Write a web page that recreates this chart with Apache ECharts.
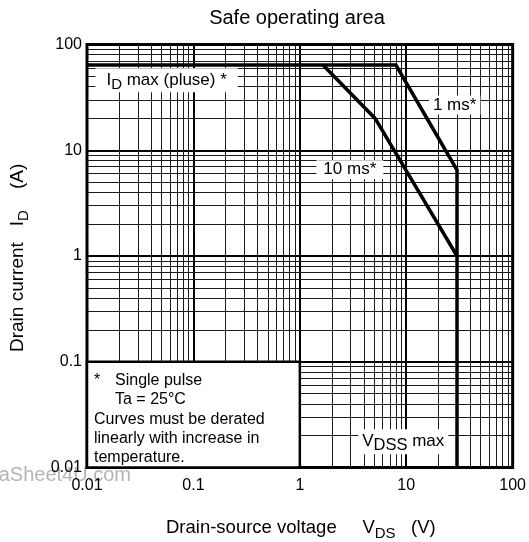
<!DOCTYPE html>
<html>
<head>
<meta charset="utf-8">
<script src="https://cdn.jsdelivr.net/npm/echarts@6/dist/echarts.min.js"></script>
<style>
  html, body { margin: 0; padding: 0; background: #fff; }
  #chart { width: 529px; height: 542px; }
</style>
</head>
<body>
<div id="chart"></div>
<script>
const FONT = '"Liberation Sans", Arial, Helvetica, sans-serif';

// Axis decades and their printed labels
const xTickLabels = ['0.01', '0.1', '1', '10', '100'];
const yTickLabels = ['0.01', '0.1', '1', '10', '100'];
const decadeStarts = [0.01, 0.1, 1, 10];
const minorSteps = [2, 3, 4, 5, 6, 7, 8, 9];

// Safe-operating-area boundaries as [V_DS (V), I_D (A)]
const limit1ms = [[0.01, 64], [8, 64], [30, 6.5], [30, 0.01]];
const limit10ms = [[1.65, 64], [5.1, 20], [30, 1]];

// Curve annotations anchored in data space
const curveNotes = [
  { at: [0.056, 46], text: '{t|I}{sub|D}{t| max (pluse) *}', pad: [0, 11] },
  { at: [28.5, 26.8], text: '{t|1 ms*}', pad: [1, 4] },
  { at: [2.95, 6.55], text: '{t|10 ms*}', pad: [1, 7] },
  { at: [9.37, 0.0175], text: '{t|V}{sub2|DSS}{t| max}', pad: [0, 4] }
];

// Region covered by the footnote box (data space corners)
const noteBox = [[0.01, 0.01], [1, 0.1]];
const noteLines = [
  '{a|*}{b|Single pulse}',
  '{a| }{b|Ta = 25°C}',
  '{b|Curves must be derated}',
  '{b|linearly with increase in}',
  '{b|temperature.}'
];

function tickText(list) {
  return function (v) {
    const hit = list.find(s => Math.abs(Math.log10(+s) - Math.log10(v)) < 1e-6);
    return hit === undefined ? '' : hit;
  };
}

const minorX = [], minorY = [];
decadeStarts.forEach(d => minorSteps.forEach(m => {
  minorX.push({ xAxis: d * m });
  minorY.push({ yAxis: d * m });
}));

const chart = echarts.init(document.getElementById('chart'), null, { renderer: 'canvas' });

const axisCommon = {
  type: 'log',
  logBase: 10,
  min: 0.01,
  max: 100,
  axisLine: { show: false },
  axisTick: { show: false },
  splitLine: { show: true, lineStyle: { color: '#000', width: 2 } },
  axisLabel: { color: '#000', fontSize: 16, fontFamily: FONT }
};

chart.setOption({
  animation: false,
  backgroundColor: '#fff',
  grid: {
    left: 87, right: 16, top: 44.5, bottom: 74.5,
    show: true, borderColor: '#000', borderWidth: 3, backgroundColor: 'transparent'
  },
  xAxis: Object.assign({}, axisCommon, {
    axisLabel: Object.assign({}, axisCommon.axisLabel, { margin: 10, formatter: tickText(xTickLabels) })
  }),
  yAxis: Object.assign({}, axisCommon, {
    axisLabel: Object.assign({}, axisCommon.axisLabel, { margin: 5, formatter: tickText(yTickLabels) })
  }),
  series: [
    {
      name: 'grid',
      type: 'line',
      data: [],
      silent: true,
      markLine: {
        z: 1,
        silent: true,
        symbol: ['none', 'none'],
        label: { show: false },
        lineStyle: { type: 'solid', color: '#1a1a1a', width: 1 },
        data: minorX.concat(minorY)
      },
      markArea: {
        z: 3,
        silent: true,
        label: { show: false },
        itemStyle: { color: '#fff', borderColor: '#000', borderWidth: 2.5, opacity: 1 },
        data: [[{ coord: noteBox[0] }, { coord: noteBox[1] }]]
      }
    },
    {
      name: '1 ms',
      type: 'line',
      data: limit1ms,
      symbol: 'none',
      silent: true,
      z: 4,
      lineStyle: { color: '#000', width: 3.5, join: 'miter' }
    },
    {
      name: '10 ms',
      type: 'line',
      data: limit10ms,
      symbol: 'none',
      silent: true,
      z: 4,
      lineStyle: { color: '#000', width: 3.5, join: 'miter' }
    },
    {
      name: 'notes',
      type: 'scatter',
      silent: true,
      z: 6,
      symbolSize: 1,
      itemStyle: { color: 'rgba(0,0,0,0)', opacity: 1 },
      data: curveNotes.map(n => ({
        value: n.at,
        label: { formatter: n.text, padding: n.pad }
      })),
      label: {
        show: true,
        position: 'inside',
        backgroundColor: '#fff',
        color: '#000',
        opacity: 1,
        fontFamily: FONT,
        fontSize: 17,
        rich: {
          t: { fontSize: 17, fontFamily: FONT, color: '#000' },
          sub: { fontSize: 15, fontFamily: FONT, color: '#000', padding: [9, 0, 0, 0] },
          sub2: { fontSize: 16.5, fontFamily: FONT, color: '#000', padding: [8, 0, 0, 0] }
        }
      }
    }
  ]
});

const corner = chart.convertToPixel({ gridIndex: 0 }, [noteBox[0][0], noteBox[1][1]]);

chart.setOption({
  graphic: [
    {
      type: 'text', z: -1, x: 131, y: 475,
      style: { text: 'DataSheet4U.com', fontSize: 20, fontFamily: FONT, fill: '#b4b4b4', align: 'right', verticalAlign: 'middle' }
    },
    {
      type: 'text', x: 297, y: 18,
      style: { text: 'Safe operating area', fontSize: 20, fontFamily: FONT, fill: '#000', align: 'center', verticalAlign: 'middle' }
    },
    {
      type: 'text', x: 166, y: 528,
      style: {
        text: 'Drain-source voltage     {s|V}{sub|DS}   (V)',
        fontSize: 18.5, fontFamily: FONT, fill: '#000', align: 'left', verticalAlign: 'middle',
        rich: {
          s: { fontSize: 18.5, fontFamily: FONT, fill: '#000' },
          sub: { fontSize: 15, fontFamily: FONT, fill: '#000', padding: [11, 0, 0, 0] }
        }
      }
    },
    {
      type: 'text', x: 18, y: 352, rotation: Math.PI / 2,
      style: {
        text: 'Drain current   {s|I}{sub|D}    (A)',
        fontSize: 19, fontFamily: FONT, fill: '#000', align: 'left', verticalAlign: 'middle',
        rich: {
          s: { fontSize: 19, fontFamily: FONT, fill: '#000' },
          sub: { fontSize: 15, fontFamily: FONT, fill: '#000', padding: [11, 0, 0, 0] }
        }
      }
    },
    {
      type: 'text', z: 100, x: corner[0] + 7, y: corner[1] + 9,
      style: {
        text: noteLines.join('\n'),
        fontSize: 16, fontFamily: FONT, fill: '#000', align: 'left', verticalAlign: 'top',
        rich: {
          a: { width: 21, fontSize: 16, lineHeight: 19.4, fontFamily: FONT, fill: '#000' },
          b: { fontSize: 16, lineHeight: 19.4, fontFamily: FONT, fill: '#000' }
        }
      }
    }
  ]
});
</script>
</body>
</html>
